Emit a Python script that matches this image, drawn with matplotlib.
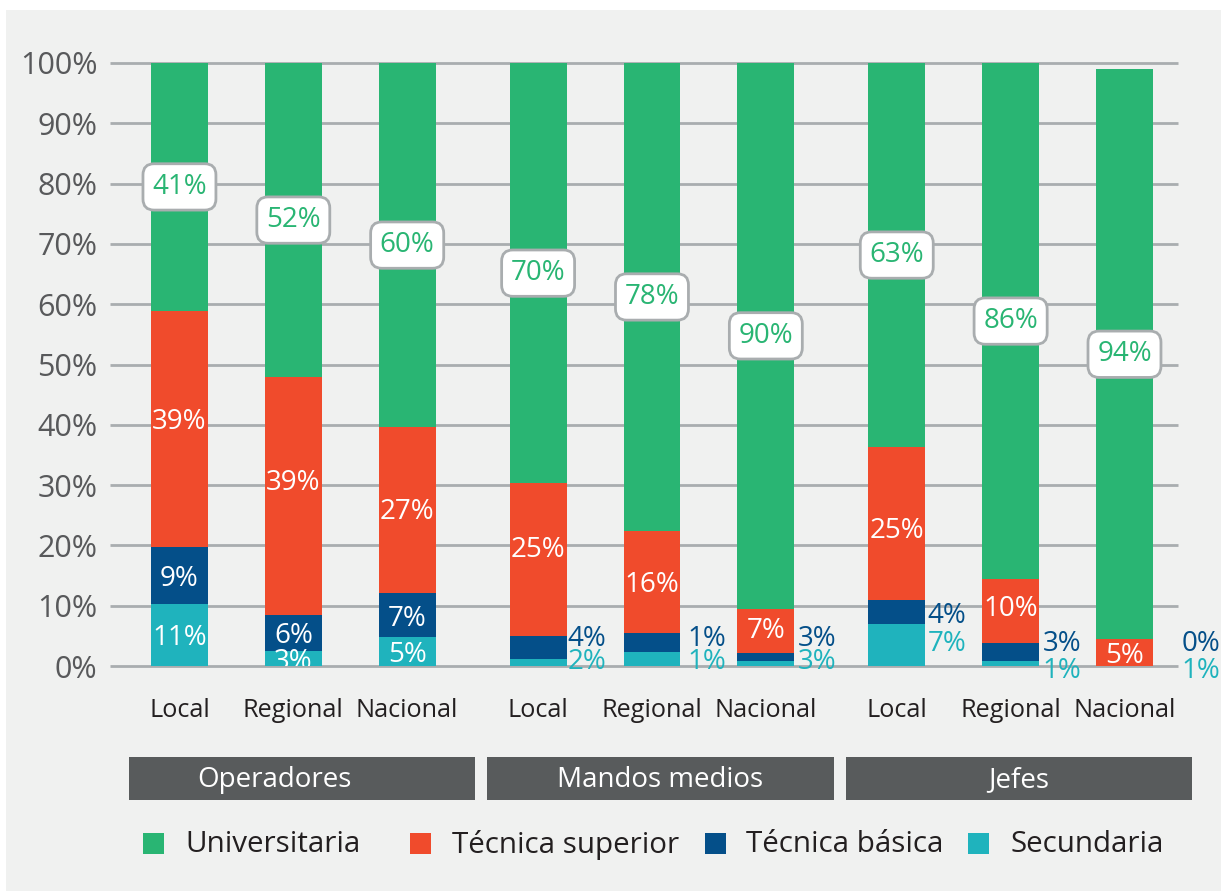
import numpy as np
import matplotlib.pyplot as plt
from matplotlib.patches import Rectangle
from matplotlib.transforms import blended_transform_factory

plt.rcParams['font.family'] = ['Open Sans', 'DejaVu Sans']

groups = ['Operadores', 'Mandos medios', 'Jefes']
categories = ['Local', 'Regional', 'Nacional'] * 3
series_names = ['Universitaria', 'Técnica superior', 'Técnica básica', 'Secundaria']

# bar heights (%)
secundaria = [10.3, 2.5, 4.8, 1.2, 2.3, 0.8, 7.0, 0.8, 0.0]
tecnica_basica = [9.4, 6.0, 7.3, 3.8, 3.2, 1.4, 3.9, 3.0, 0.0]
tecnica_superior = [39.2, 39.4, 27.5, 25.3, 16.9, 7.3, 25.4, 10.6, 4.4]
universitaria = [41.1, 52.1, 60.4, 69.7, 77.6, 90.5, 63.7, 85.6, 94.6]

# printed labels (as in the source chart)
lab_sec = ['11%', '3%', '5%', '2%', '1%', '3%', '7%', '1%', '1%']
lab_tb = ['9%', '6%', '7%', '4%', '1%', '3%', '4%', '3%', '0%']
lab_ts = ['39%', '39%', '27%', '25%', '16%', '7%', '25%', '10%', '5%']
lab_univ = ['41%', '52%', '60%', '70%', '78%', '90%', '63%', '86%', '94%']

C_UNIV = '#29b573'
C_TS = '#f04b2c'
C_TB = '#044f89'
C_SEC = '#1fb3bd'
colors = [C_UNIV, C_TS, C_TB, C_SEC]

W, H = 1221, 891
fig = plt.figure(figsize=(W / 100, H / 100), dpi=100)
fig.patch.set_facecolor('white')
fig.add_artist(Rectangle((6 / W, 0), 1 - 6 / W, 1 - 10 / H, transform=fig.transFigure,
                         facecolor='#f0f1f0', edgecolor='none', zorder=-10))

ax = fig.add_axes([110 / W, 1 - 666 / H, (1178 - 110) / W, (666 - 63) / H])
ax.set_facecolor('none')

gap = 0.15
x = np.array([i + (i // 3) * gap for i in range(9)])
bw = 0.5

sec = np.array(secundaria)
tb = np.array(tecnica_basica)
ts = np.array(tecnica_superior)
un = np.array(universitaria)

ax.bar(x, sec, bw, color=C_SEC, zorder=2)
ax.bar(x, tb, bw, bottom=sec, color=C_TB, zorder=2)
ax.bar(x, ts, bw, bottom=sec + tb, color=C_TS, zorder=2)
ax.bar(x, un, bw, bottom=sec + tb + ts, color=C_UNIV, zorder=2)

ax.set_xlim(-0.61, 8.77)
ax.set_ylim(0, 100)
yt = np.arange(0, 101, 10)
ax.hlines(yt, -0.61, 8.77, colors='#a9adaf', lw=2, zorder=1, clip_on=False)
ax.set_yticks(yt)
ax.set_yticklabels([f'{v}%' for v in yt], fontsize=22, color='#58595b')
ax.set_xticks(x)
ax.set_xticklabels(categories, fontsize=18.2, color='#231f20')
ax.tick_params(axis='y', length=0, pad=9)
ax.tick_params(axis='x', length=0, pad=23)
for s in ax.spines.values():
    s.set_visible(False)

fs = 20
# universitaria boxes
for i in range(9):
    yc = sec[i] + tb[i] + ts[i] + un[i] / 2
    ax.text(x[i], yc, lab_univ[i], ha='center', va='center', fontsize=fs, color=C_UNIV, zorder=4,
            bbox=dict(boxstyle='round,pad=0.33,rounding_size=0.4', fc='white', ec='#a9adaf', lw=2))

# técnica superior
ts_shift = [1.7, 2.8, 0.3, 2.1, 0, 0.6, -0.7, 0.9, 0]
for i in range(9):
    yc = sec[i] + tb[i] + ts[i] / 2 + ts_shift[i]
    ax.text(x[i], yc, lab_ts[i], ha='center', va='center_baseline', fontsize=fs, color='white',
            zorder=4)

# técnica básica and secundaria: inside for operadores, beside the bar for the rest
for i in range(3):
    ax.text(x[i], sec[i] + tb[i] / 2, lab_tb[i], ha='center', va='center_baseline', fontsize=fs,
            color='white', zorder=4)
    ax.text(x[i], sec[i] / 2, lab_sec[i], ha='center', va='center_baseline', fontsize=fs,
            color='white', zorder=4, clip_on=True)
tb_out_y = [5.0, 5.0, 5.0, 8.8, 4.3, 4.3]
sec_out_y = [1.3, 1.3, 1.3, 4.3, -0.2, -0.2]
out_dx = [0.01, 0.06, 0.03, 0.02, 0.03, 0.25]
for k, i in enumerate(range(3, 9)):
    xo = x[i] + bw / 2 + out_dx[k]
    ax.text(xo, tb_out_y[k], lab_tb[i], ha='left', va='center_baseline', fontsize=fs,
            color=C_TB, zorder=4, clip_on=False)
    ax.text(xo, sec_out_y[k], lab_sec[i], ha='left', va='center_baseline', fontsize=fs,
            color=C_SEC, zorder=4, clip_on=False)

# group header boxes
tr = blended_transform_factory(ax.transData, ax.transAxes)
y0 = (666 - 800) / (666 - 63)
hh = 43 / (666 - 63)
head_dx = [-0.24, 0, 0]
for g, name in enumerate(groups):
    c = x[g * 3 + 1] + 0.075
    ax.add_patch(Rectangle((c - 1.52, y0), 3.04, hh, transform=tr, facecolor='#585b5c',
                           edgecolor='none', clip_on=False))
    ax.text(c + head_dx[g], y0 + hh / 2 + 2 / (666 - 63), name, transform=tr, ha='center',
            va='center_baseline', fontsize=20, color='white')

# legend drawn by hand
sq_x = [143, 410, 705, 968]
txt_x = [185, 452, 746, 1010]
for nm, col, sx, tx in zip(series_names, colors, sq_x, txt_x):
    fig.add_artist(Rectangle((sx / W, 1 - 854 / H), 21 / W, 21 / H, transform=fig.transFigure,
                             facecolor=col, edgecolor='none'))
    fig.text(tx / W, 1 - 841 / H, nm, ha='left', va='center_baseline', fontsize=21.3,
             color='#231f20')

fig.savefig('out.png', dpi=100)
